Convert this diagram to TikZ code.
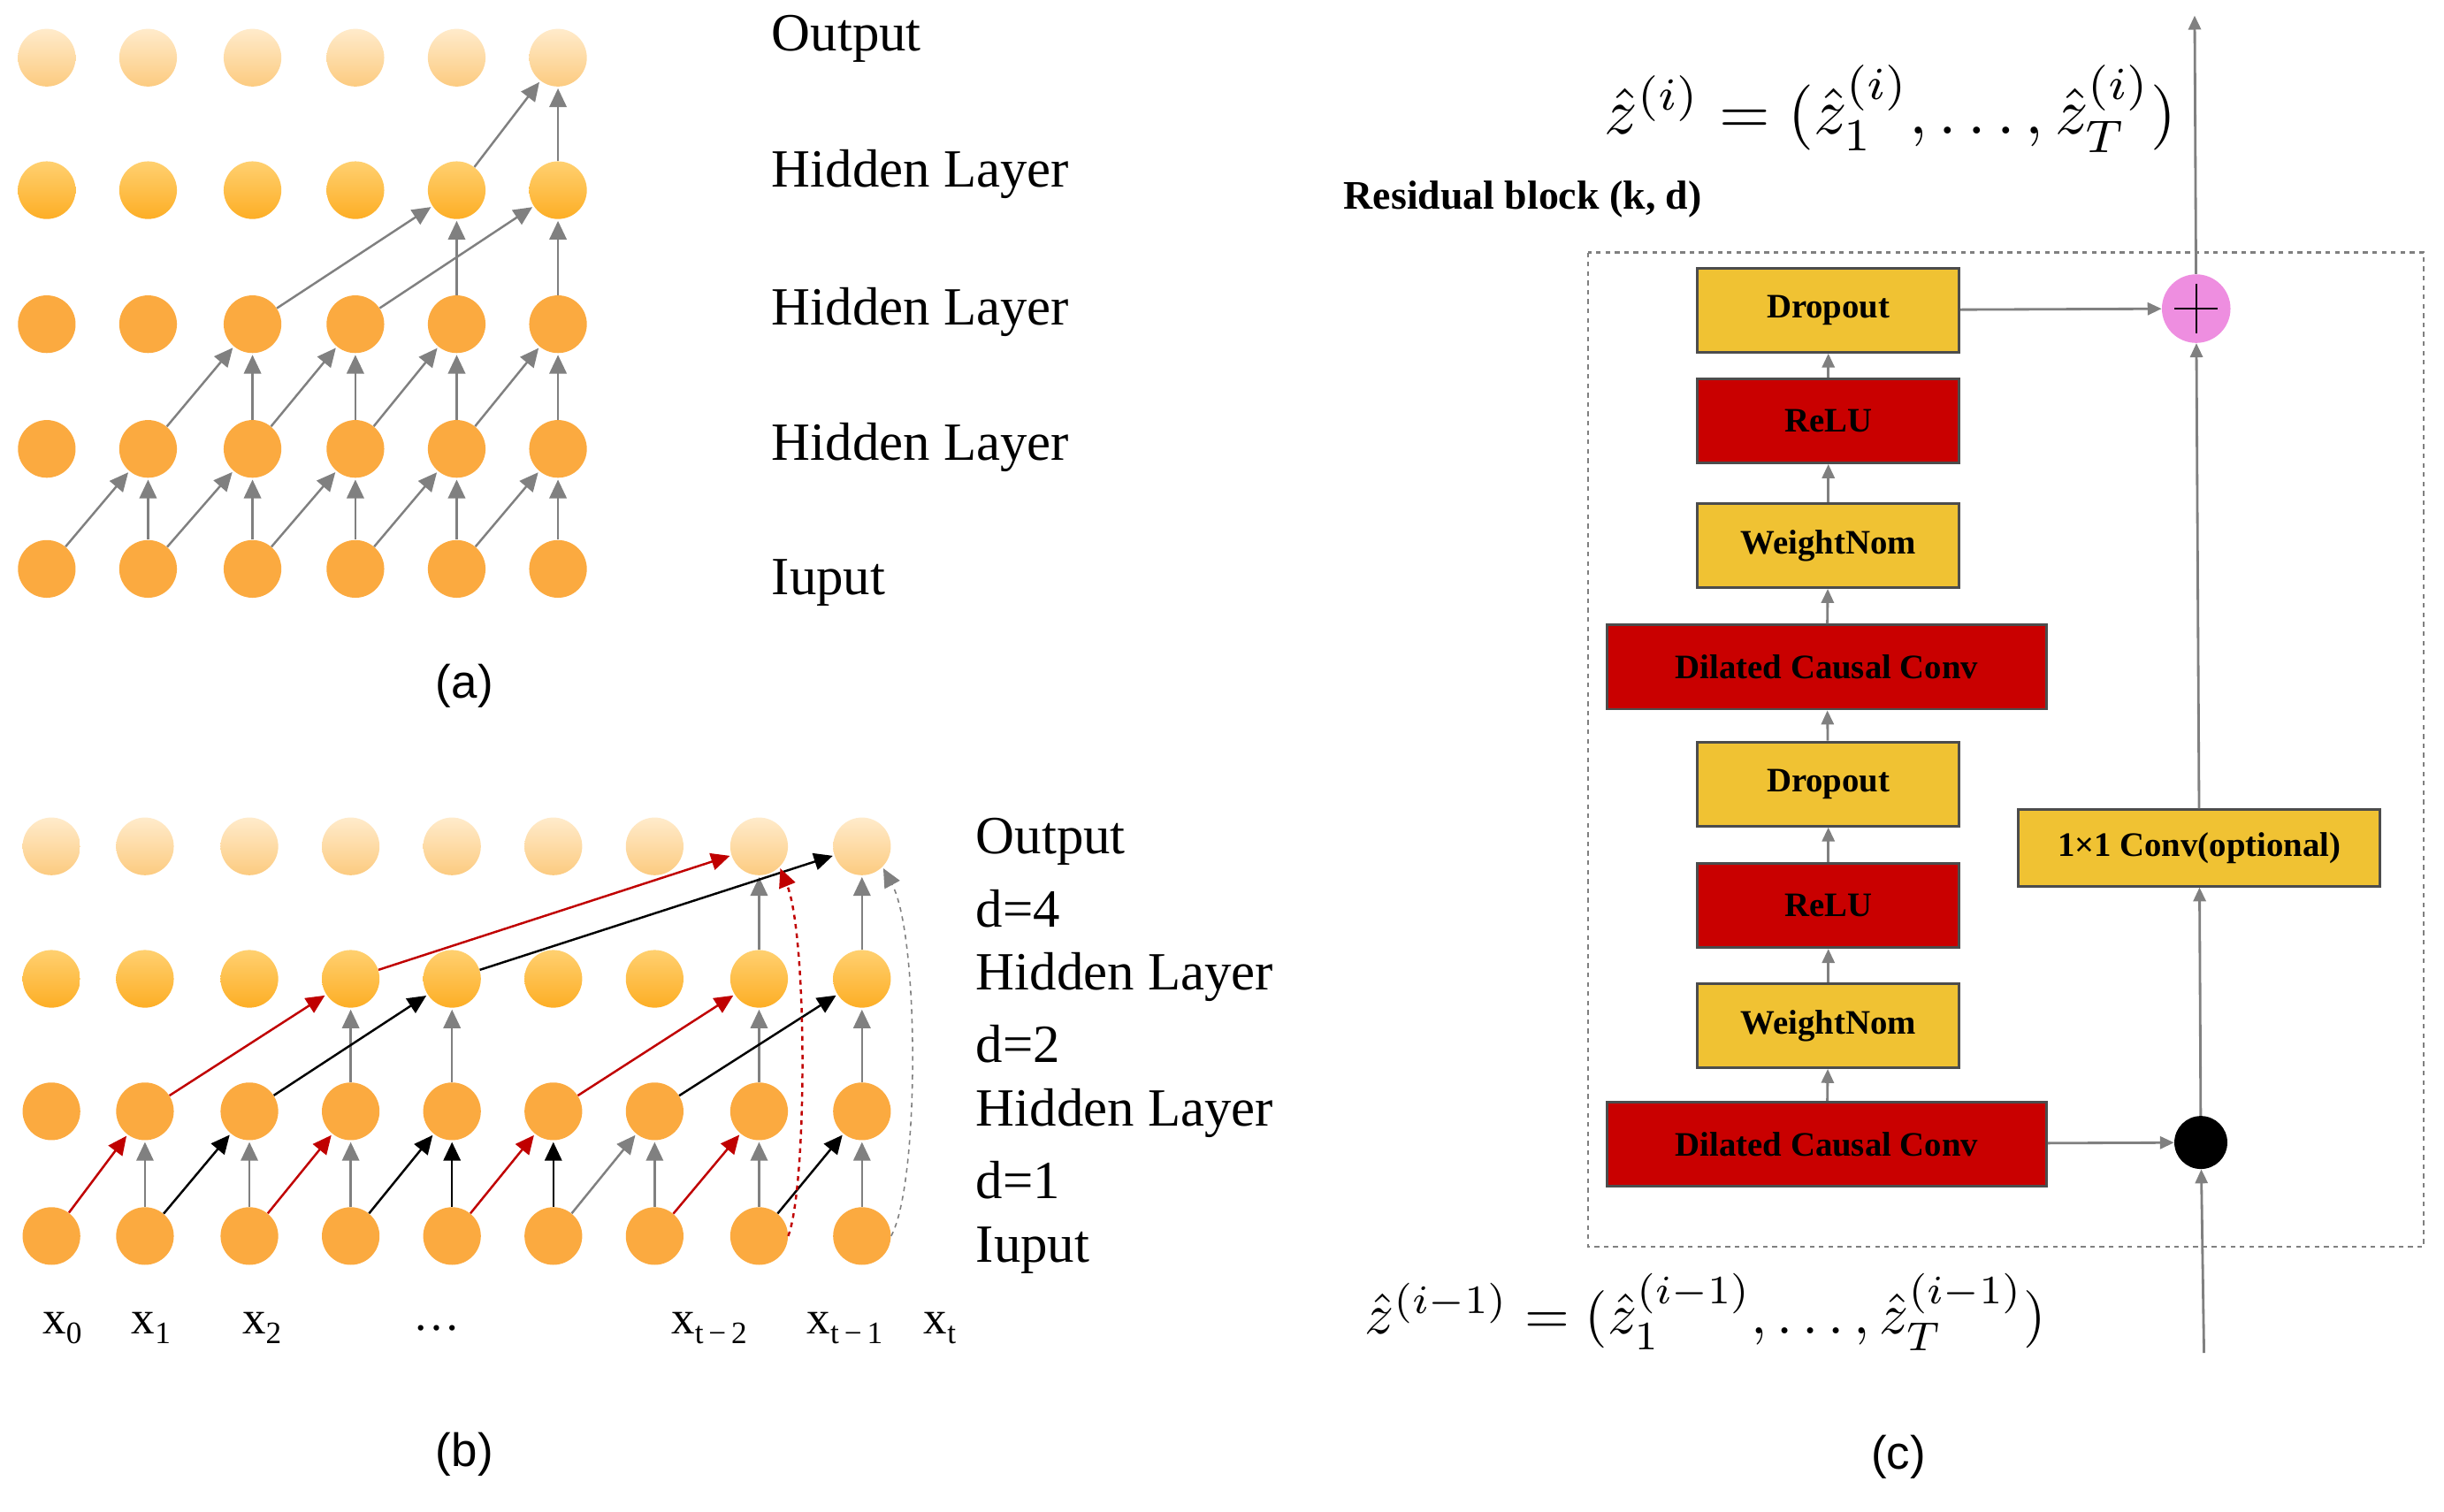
\documentclass[tikz,border=0pt]{standalone}
\usepackage{fontspec}
\setmainfont{Liberation Serif}
\newfontfamily\sansf{Liberation Sans}
\usetikzlibrary{arrows.meta,shapes.geometric}
\definecolor{ballc}{HTML}{FBAA40}
\definecolor{ytop}{HTML}{FFEBCB}
\definecolor{ybot}{HTML}{FCCB80}
\definecolor{htop}{HTML}{FFD070}
\definecolor{hbot}{HTML}{FDAE25}
\definecolor{boxy}{HTML}{F0C233}
\definecolor{boxr}{HTML}{C90000}
\definecolor{arr}{HTML}{808080}
\definecolor{redarr}{HTML}{C00000}
\definecolor{pinkc}{HTML}{EE8EE0}
\tikzset{
 ball/.style={circle,minimum size=37pt,inner sep=0pt,draw=none,fill=ballc},
 outb/.style={ball,fill=none,top color=ytop,bottom color=ybot},
 hidb/.style={ball,fill=none,top color=htop,bottom color=hbot},
 ga/.style={draw=arr,line width=1.4pt,-{Triangle[length=12pt,width=11pt]},shorten >=1pt},
 ka/.style={ga,draw=black},
 ra/.style={ga,draw=redarr},
 lab/.style={anchor=west,font=\fontsize{34.5}{36}\selectfont,inner sep=0pt},
 capt/.style={font=\sansf\fontsize{30}{32}\selectfont},
 blk/.style={draw=black!70,line width=1.6pt,minimum height=54pt,font=\bfseries\fontsize{22}{24}\selectfont,inner sep=0pt},
 by/.style={blk,fill=boxy,minimum width=168pt},
 br/.style={blk,fill=boxr,minimum width=168pt},
 carr/.style={draw=arr,line width=1.6pt,-{Triangle[length=9pt,width=8pt]}},
}
\begin{document}
\begin{tikzpicture}[x=1pt,y=-1pt]
\useasboundingbox (0,0) rectangle (1568,970);
% ---------- (a)
\foreach \c/\x in {0/30,1/95,2/162,3/228,4/293,5/358}{
  \node[outb] (ao\c) at (\x,37) {};
  \node[hidb] (ah3\c) at (\x,122) {};
  \node[ball] (ah2\c) at (\x,208) {};
  \node[ball] (ah1\c) at (\x,288) {};
  \node[ball] (ai\c) at (\x,365) {};
}
\foreach \c in {1,...,5}{\draw[ga] (ai\c) -- (ah1\c);}
\foreach \a/\b in {0/1,1/2,2/3,3/4,4/5}{\draw[ga] (ai\a) -- (ah1\b);}
\foreach \c in {2,...,5}{\draw[ga] (ah1\c) -- (ah2\c);}
\foreach \a/\b in {1/2,2/3,3/4,4/5}{\draw[ga] (ah1\a) -- (ah2\b);}
\foreach \c in {4,5}{\draw[ga] (ah2\c) -- (ah3\c);}
\foreach \a/\b in {2/4,3/5}{\draw[ga] (ah2\a) -- (ah3\b);}
\draw[ga] (ah35) -- (ao5);
\draw[ga] (ah34) -- (ao5);
\node[lab] (la0) at (495,25) {Output};
\node[lab] (la1) at (495,112) {Hidden Layer};
\node[lab] (la2) at (495,200) {Hidden Layer};
\node[lab] (la3) at (495,287) {Hidden Layer};
\node[lab] (la4) at (495,374) {Iuput};
\node[capt] (capa) at (298,440) {(a)};
% ---------- (b)
\foreach \c/\x in {0/33,1/93,2/160,3/225,4/290,5/355,6/420,7/487,8/553}{
  \node[outb] (bo\c) at (\x,543) {};
  \node[hidb] (bh2\c) at (\x,628) {};
  \node[ball] (bh1\c) at (\x,713) {};
  \node[ball] (bi\c) at (\x,793) {};
}
\foreach \c in {1,2,3,6,7,8}{\draw[ga] (bi\c) -- (bh1\c);}
\foreach \c in {4,5}{\draw[ka] (bi\c) -- (bh1\c);}
\foreach \a/\b in {0/1,2/3,4/5,6/7}{\draw[ra] (bi\a) -- (bh1\b);}
\foreach \a/\b in {1/2,3/4,7/8}{\draw[ka] (bi\a) -- (bh1\b);}
\draw[ga] (bi5) -- (bh16);
\foreach \c in {3,4,7,8}{\draw[ga] (bh1\c) -- (bh2\c);}
\draw[ra] (bh11) -- (bh23);
\draw[ka] (bh12) -- (bh24);
\draw[ra] (bh15) -- (bh27);
\draw[ka] (bh16) -- (bh28);
\foreach \c in {7,8}{\draw[ga] (bh2\c) -- (bo\c);}
\draw[ra] (bh23) -- (bo7);
\draw[ka] (bh24) -- (bo8);
\draw[ra,dashed] (bi7.east) .. controls (518,760) and (518,600) .. (bo7.south east);
\draw[ga,dashed,line width=0.9pt] (bi8.east) .. controls (590,760) and (590,600) .. (bo8.south east);
\node[lab] (lb0) at (626,540) {Output};
\node[lab] (lb1) at (626,583) {d=4};
\node[lab] (lb2) at (626,627) {Hidden Layer};
\node[lab] (lb3) at (626,670) {d=2};
\node[lab] (lb4) at (626,714) {Hidden Layer};
\node[lab] (lb5) at (626,757) {d=1};
\node[lab] (lb6) at (626,802) {Iuput};
\tikzset{xl/.style={font=\fontsize{30}{32}\selectfont}}
\node[xl] (x0) at (40,852) {x\raisebox{-6pt}{\fontsize{20}{20}\selectfont 0}};
\node[xl] (x1) at (97,852) {x\raisebox{-6pt}{\fontsize{20}{20}\selectfont 1}};
\node[xl] (x2) at (168,852) {x\raisebox{-6pt}{\fontsize{20}{20}\selectfont 2}};
\node[xl] (xd) at (280,852) {\dots};
\node[xl] (x3) at (455,852) {x\raisebox{-6pt}{\fontsize{20}{20}\selectfont t\,−\,2}};
\node[xl] (x4) at (542,852) {x\raisebox{-6pt}{\fontsize{20}{20}\selectfont t\,−\,1}};
\node[xl] (x5) at (603,852) {x\raisebox{-6pt}{\fontsize{20}{20}\selectfont t}};
\node[capt] (capb) at (298,933) {(b)};
% ---------- (c)
\draw[arr,dashed,line width=1.3pt] (1019,162) rectangle (1555,800);
\node[by] (d1) at (1173,199) {Dropout};
\node[br] (r1) at (1173,270) {ReLU};
\node[by] (w1) at (1173,350) {WeightNom};
\node[br,minimum width=282pt] (c1) at (1172,428) {Dilated Causal Conv};
\node[by] (d2) at (1173,503) {Dropout};
\node[br] (r2) at (1173,581) {ReLU};
\node[by] (w2) at (1173,658) {WeightNom};
\node[br,minimum width=282pt] (c2) at (1172,734) {Dilated Causal Conv};
\node[by,minimum width=232pt,minimum height=49pt] (one) at (1411,544) {1×1 Conv(optional)};
\node[circle,fill=pinkc,minimum size=44pt,inner sep=0pt] (plus) at (1409,198) {};
\draw[line width=1.4pt] (plus.center) +(-14,0) -- +(14,0) (plus.center) +(0,-16) -- +(0,16);
\node[circle,fill=black,minimum size=34pt,inner sep=0pt] (dot) at (1412,733) {};
\coordinate (bot) at (1414,868);
\coordinate (top) at (1408,10);
\draw[carr] (c2) -- (w2);
\draw[carr] (w2) -- (r2);
\draw[carr] (r2) -- (d2);
\draw[carr] (d2) -- (c1);
\draw[carr] (c1) -- (w1);
\draw[carr] (w1) -- (r1);
\draw[carr] (r1) -- (d1);
\draw[carr] (d1) -- (plus);
\draw[carr] (c2) -- (dot);
\draw[carr] (bot) -- (dot);
\draw[carr] (dot) -- (one);
\draw[carr] (one) -- (plus);
\draw[carr] (plus) -- (top);
\node[scale=4.2] (ztop) at (1213,70) {$\hat z^{(i)}=(\hat z^{(i)}_1,\ldots,\hat z^{(i)}_T)$};
\node[scale=3.7] (zbot) at (1094,842) {$\hat z^{(i-1)}=(\hat z^{(i-1)}_1,\ldots,\hat z^{(i-1)}_T)$};
\node[font=\bfseries\fontsize{26}{28}\selectfont] (rb) at (977,128) {Residual block (k, d)};
\node[capt] (capc) at (1218,935) {(c)};
\end{tikzpicture}
\end{document}
